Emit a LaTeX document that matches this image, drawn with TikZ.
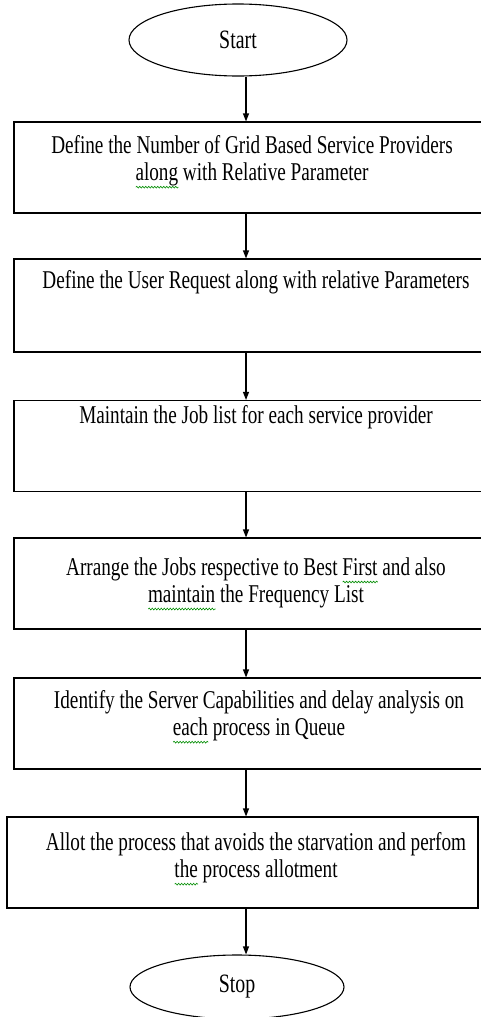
\documentclass[tikz,border=0pt]{standalone}
\usepackage{fontspec}
\setmainfont[FakeStretch=0.75]{Liberation Serif}
\usetikzlibrary{arrows.meta,shapes.geometric,positioning,decorations.pathmorphing}

\newsavebox{\spellbox}
\newcommand{\spellmark}[1]{\sbox{\spellbox}{#1}%
  \rlap{\tikz[baseline=0pt]\draw[green!55!black, line width=0.6pt,
    decorate, decoration={snake, amplitude=0.9pt, segment length=3pt}]
    (0pt,-6.5pt) -- (\wd\spellbox,-6.5pt);}#1}

\begin{document}
\begin{tikzpicture}[x=1pt,y=-1pt,
    stepbox/.style={draw, line width=1.1pt, minimum height=91pt, inner sep=0pt},
    ends/.style={ellipse, draw, line width=1.1pt, inner sep=0pt, font=\fontsize{26.5}{30}\selectfont},
    steptext/.style={align=center, inner sep=0pt, font=\fontsize{25.6}{27}\selectfont},
    flow/.style={-{Triangle[width=6pt,length=8pt]}, line width=1.1pt}]
    \path[use as bounding box] (0,0) rectangle (481,1017);
    \clip (0,0) rectangle (481,1017);

    \coordinate (spine) at (246,0);

    \node[ends, minimum width=218pt, minimum height=72pt] (start) at (238,40) {Start};

    \node[stepbox, minimum width=484pt] (b1) at (256,167.5) {};
    \node[stepbox, minimum width=484pt, minimum height=93pt] (b2) at (256,305.5) {};
    \node[stepbox, minimum width=484pt] (b3) at (256,446) {};
    \node[stepbox, minimum width=484pt] (b4) at (256,583.5) {};
    \node[stepbox, minimum width=484pt] (b5) at (256,723.5) {};
    \node[stepbox, minimum width=471pt] (b6) at (242.5,862.5) {};

    \node[ends, minimum width=214pt, minimum height=64pt] (stop) at (237,987) {Stop};

    \node[steptext] (t1) at (252,162) {Define the Number of Grid Based Service Providers\\ \spellmark{along} with Relative Parameter};
    \node[steptext] (t2) at (256,282) {Define the User Request along with relative Parameters};
    \node[steptext] (t3) at (256,417) {Maintain the Job list for each service provider};
    \node[steptext] (t4) at (256,584) {Arrange the Jobs respective to Best \spellmark{First} and also\\ \spellmark{maintain} the Frequency List};
    \node[steptext] (t5) at (259,717) {Identify the Server Capabilities and delay analysis on\\ \spellmark{each} process in Queue};
    \node[steptext] (t6) at (256,859) {Allot the process that avoids the starvation and perfom\\ \spellmark{the} process allotment};

    \draw[flow] (start.south -| spine) -- (b1.north -| spine);
    \draw[flow] (b1.south -| spine) -- (b2.north -| spine);
    \draw[flow] (b2.south -| spine) -- (b3.north -| spine);
    \draw[flow] (b3.south -| spine) -- (b4.north -| spine);
    \draw[flow] (b4.south -| spine) -- (b5.north -| spine);
    \draw[flow] (b5.south -| spine) -- (b6.north -| spine);
    \draw[flow] (b6.south -| spine) -- (stop.north -| spine);
\end{tikzpicture}
\end{document}
